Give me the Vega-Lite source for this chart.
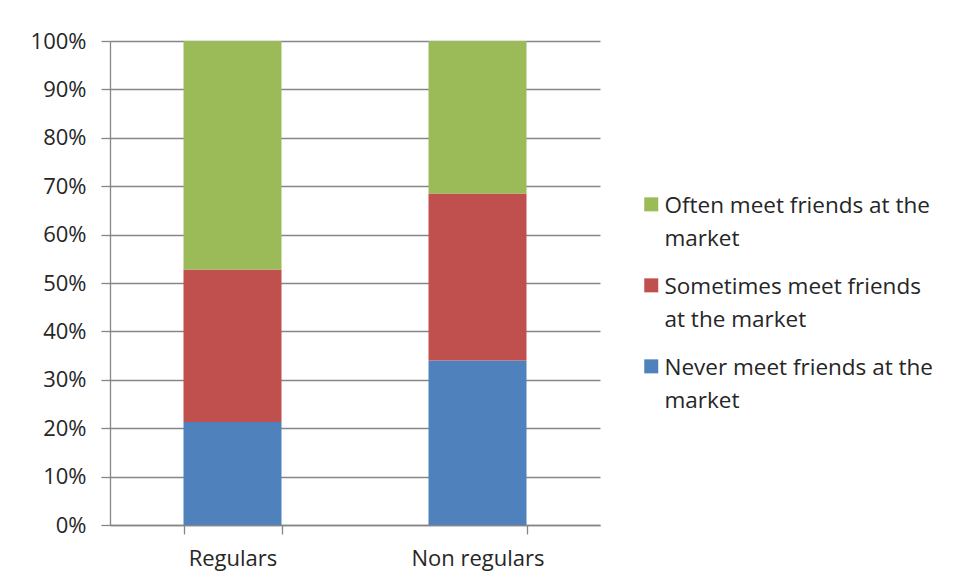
{
  "$schema": "https://vega.github.io/schema/vega-lite/v6.json",
  "autosize": {"type": "none"},
  "padding": {"left": 110, "top": 41, "right": 358, "bottom": 58},
  "width": 490,
  "height": 484,
  "background": "white",
  "config": {
    "font": "Open Sans",
    "view": {"stroke": null},
    "style": {"guide-label": {"lineHeight": 33}},
    "axis": {
      "labelFont": "Open Sans",
      "labelFontSize": 22,
      "labelColor": "#262626",
      "domainColor": "#868686",
      "tickColor": "#868686",
      "gridColor": "#868686",
      "domainWidth": 1.3,
      "tickWidth": 1.3,
      "gridWidth": 1.3,
      "tickSize": 9,
      "labelOverlap": false,
      "title": null
    }
  },
  "data": {
    "values": [
      {"group": "Regulars", "response": "Never meet friends at the market", "rank": 1, "share": 0.213},
      {"group": "Regulars", "response": "Sometimes meet friends at the market", "rank": 2, "share": 0.315},
      {"group": "Regulars", "response": "Often meet friends at the market", "rank": 3, "share": 0.472},
      {"group": "Non regulars", "response": "Never meet friends at the market", "rank": 1, "share": 0.340},
      {"group": "Non regulars", "response": "Sometimes meet friends at the market", "rank": 2, "share": 0.345},
      {"group": "Non regulars", "response": "Often meet friends at the market", "rank": 3, "share": 0.315}
    ]
  },
  "mark": {"type": "bar"},
  "encoding": {
    "x": {
      "field": "group",
      "type": "nominal",
      "sort": ["Regulars", "Non regulars"],
      "scale": {"paddingInner": 0.6, "paddingOuter": 0.3},
      "axis": {"labelAngle": 0, "tickBand": "extent", "labelPadding": 14, "grid": false}
    },
    "y": {
      "field": "share",
      "type": "quantitative",
      "stack": "normalize",
      "scale": {"domain": [0, 1]},
      "axis": {"format": ".0%", "values": [0,0.1,0.2,0.3,0.4,0.5,0.6,0.7,0.8,0.9,1], "labelPadding": 15, "grid": true}
    },
    "order": {"field": "rank", "type": "quantitative"},
    "color": {
      "field": "response",
      "type": "nominal",
      "scale": {
        "domain": ["Often meet friends at the market", "Sometimes meet friends at the market", "Never meet friends at the market"],
        "range": ["#9BBB59", "#C0504D", "#4F81BD"]
      },
      "legend": {
        "title": null,
        "orient": "none",
        "legendX": 530,
        "legendY": 143,
        "symbolType": "M-1,0.3H1V2.3H-1Z",
        "symbolSize": 196,
        "symbolStrokeWidth": 0,
        "labelFont": "Open Sans",
        "labelFontSize": 22.5,
        "labelColor": "#262626",
        "labelLimit": 400,
        "labelBaseline": "top",
        "labelOffset": 2,
        "rowPadding": 14,
        "labelExpr": "datum.label == 'Often meet friends at the market' ? ['Often meet friends at the', 'market'] : datum.label == 'Sometimes meet friends at the market' ? ['Sometimes meet friends', 'at the market'] : ['Never meet friends at the', 'market']"
      }
    }
  }
}
